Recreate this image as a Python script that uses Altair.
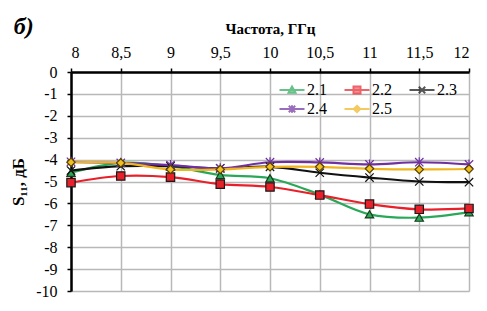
import altair as alt
import pandas as pd

freq = [8, 8.5, 9, 9.5, 10, 10.5, 11, 11.5, 12]
s_2_1 = [-4.6, -4.15, -4.3, -4.7, -4.85, -5.6, -6.5, -6.65, -6.4]
s_2_2 = [-5.05, -4.75, -4.8, -5.12, -5.25, -5.62, -6.03, -6.27, -6.23]
s_2_3 = [-4.5, -4.3, -4.3, -4.4, -4.33, -4.6, -4.82, -5.0, -5.03]
s_2_4 = [-4.1, -4.15, -4.25, -4.4, -4.12, -4.13, -4.22, -4.12, -4.22]
s_2_5 = [-4.12, -4.15, -4.45, -4.45, -4.33, -4.33, -4.42, -4.45, -4.43]

series_names = ["2.1", "2.2", "2.3", "2.4", "2.5"]
x_ticks = [8, 8.5, 9, 9.5, 10, 10.5, 11, 11.5, 12]
y_ticks = [0, -1, -2, -3, -4, -5, -6, -7, -8, -9, -10]

line_colors = ["#2aa85a", "#e8202a", "#111111", "#7030a0", "#f0b41e"]
fill_colors = ["#2aa85a", "#e8202a", "#111111", "#7030a0", "#f0c020"]
edge_colors = ["#1a3a1a", "#1a1a1a", "#111111", "#7030a0", "#5a4200"]

plot_shapes = [
    "triangle-up",
    "square",
    "M-1,-1L1,1M-1,1L1,-1",
    "M-1,-1L1,1M-1,1L1,-1M0,-1.2L0,1.2",
    "diamond",
]
legend_shapes = [
    "M-1.25,0L1.25,0M0,-0.35L0.35,0.28L-0.35,0.28Z",
    "M-1.25,0L1.25,0M-0.35,-0.35L0.35,-0.35L0.35,0.35L-0.35,0.35Z",
    "M-1.25,0L1.25,0M-0.32,-0.32L0.32,0.32M-0.32,0.32L0.32,-0.32",
    "M-1.25,0L1.25,0M-0.32,-0.32L0.32,0.32M-0.32,0.32L0.32,-0.32M0,-0.38L0,0.38",
    "M-1.25,0L1.25,0M0,-0.32L0.32,0L0,0.32L-0.32,0Z",
]

rows = []
for name, vals in zip(series_names, [s_2_1, s_2_2, s_2_3, s_2_4, s_2_5]):
    for f, v in zip(freq, vals):
        rows.append({"freq": f, "s": v, "series": name})
df = pd.DataFrame(rows)

FONT = "Liberation Serif, Times New Roman, serif"

axis_common = dict(
    titleFont=FONT,
    titleFontWeight="bold",
    titleColor="black",
    labelFont=FONT,
    labelFontSize=16,
    labelFontWeight="normal",
    labelColor="black",
    labelOverlap=False,
    labelBound=False,
    tickSize=4,
    tickColor="black",
    tickWidth=1.5,
    domainColor="black",
    domainWidth=2.5,
    grid=True,
    gridColor="#b8b8b8",
    gridWidth=1.5,
)

x_axis = alt.Axis(
    orient="top",
    values=x_ticks,
    labelExpr="replace(toString(datum.value), '.', ',')",
    title="Частота, ГГц",
    titleFontSize=15,
    titlePadding=8,
    labelPadding=8,
    **axis_common,
)
y_axis = alt.Axis(
    values=y_ticks,
    labelExpr="toString(datum.value)",
    title="S₁₁, дБ",
    titleFontSize=17,
    titlePadding=8,
    labelPadding=10,
    **axis_common,
)
x_scale = alt.Scale(domain=[8, 12], nice=False)
y_scale = alt.Scale(domain=[-10, 0], nice=False)


def xe():
    return alt.X("freq:Q", scale=x_scale, axis=x_axis)


def ye():
    return alt.Y("s:Q", scale=y_scale, axis=y_axis)


lines = alt.Chart(df).mark_line(interpolate="catmull-rom", strokeWidth=2.2).encode(
    x=xe(),
    y=ye(),
    color=alt.Color("series:N", scale=alt.Scale(domain=series_names, range=line_colors), legend=None),
)

points = alt.Chart(df).mark_point(filled=True, strokeWidth=1.2, opacity=1).encode(
    x=xe(),
    y=ye(),
    shape=alt.Shape("series:N", scale=alt.Scale(domain=series_names, range=plot_shapes), legend=None),
    fill=alt.Fill("series:N", scale=alt.Scale(domain=series_names, range=fill_colors), legend=None),
    stroke=alt.Stroke("series:N", scale=alt.Scale(domain=series_names, range=edge_colors), legend=None),
    size=alt.value(70),
)

leg = alt.Legend(
    title=None,
    orient="none",
    legendX=210,
    legendY=7,
    columns=3,
    direction="horizontal",
    symbolSize=400,
    symbolStrokeWidth=2,
    labelFont=FONT,
    labelFontSize=16,
    labelColor="black",
    labelOffset=4,
    columnPadding=13,
    rowPadding=0,
    padding=0,
)

legend_layer = alt.Chart(df).transform_filter("false").mark_point(filled=True, strokeWidth=2).encode(
    x=xe(),
    y=ye(),
    shape=alt.Shape("series:N", scale=alt.Scale(domain=series_names, range=legend_shapes), legend=leg),
    fill=alt.Fill("series:N", scale=alt.Scale(domain=series_names, range=fill_colors), legend=leg),
    stroke=alt.Stroke("series:N", scale=alt.Scale(domain=series_names, range=line_colors), legend=leg),
)

chart = (
    alt.layer(lines, points, legend_layer)
    .resolve_scale(shape="independent", fill="independent", stroke="independent")
    .properties(
        width=398,
        height=219,
        padding={"left": 63, "top": 64, "right": 10, "bottom": 12},
        autosize=alt.AutoSizeParams(type="none"),
        title=alt.TitleParams(
            "б)",
            anchor="start",
            frame="bounds",
            font=FONT,
            fontSize=24,
            fontStyle="italic",
            fontWeight="bold",
            color="black",
            dx=4,
            dy=22,
        ),
    )
    .configure(background="white", font=FONT)
    .configure_view(stroke=None)
)

chart.save("out.html", embed_options={"renderer": "svg", "actions": False})
